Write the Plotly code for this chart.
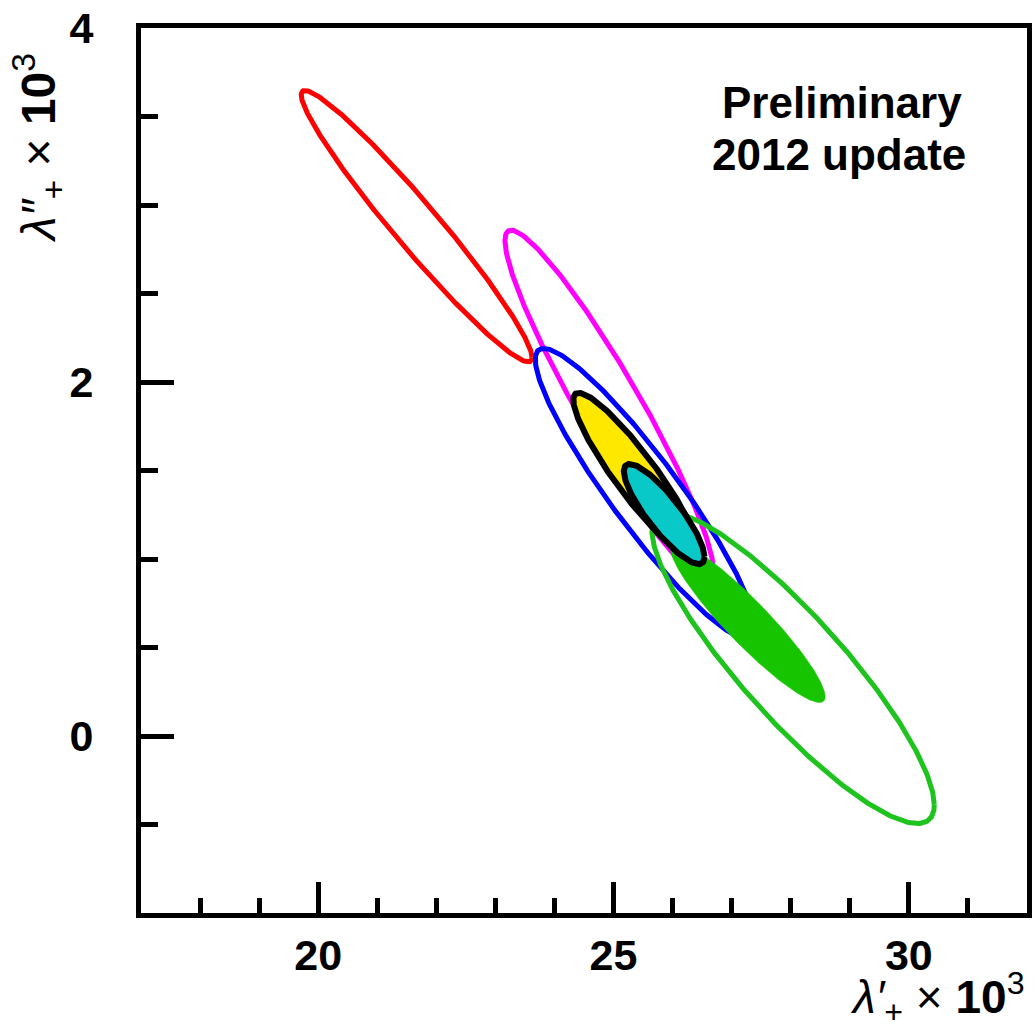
import numpy as np
import plotly.graph_objects as go

# Ellipse parameters (data units: lambda'_+ x 10^3, lambda''_+ x 10^3)
ellipse_names = ["red", "magenta", "blue", "green_outline", "green_fill", "yellow", "cyan"]
center_x = [21.666, 24.927, 25.535, 28.040, 27.273, 25.379, 25.857]
center_y = [2.880, 1.867, 1.370, 0.385, 0.641, 1.472, 1.254]
sigma_x = [1.954, 1.765, 1.860, 2.390, 1.310, 1.060, 0.683]
sigma_y = [0.767, 0.991, 0.820, 0.880, 0.452, 0.467, 0.283]
rho = [-0.967, -0.940, -0.923, -0.880, -0.926, -0.914, -0.855]

x_tick_vals = [20, 25, 30]
x_tick_text = ["20", "25", "30"]
y_tick_vals = [0, 2, 4]
y_tick_text = ["0", "2", "4"]

styles = {
    "red": dict(line="#ff0000", fill=None, lw=5),
    "magenta": dict(line="#ff00ff", fill=None, lw=5),
    "blue": dict(line="#0000ff", fill=None, lw=5),
    "green_outline": dict(line="#1ec31e", fill=None, lw=5),
    "green_fill": dict(line="#16c400", fill="#16c400", lw=0.5),
    "yellow": dict(line="#000000", fill="#ffe800", lw=6),
    "cyan": dict(line="#000000", fill="#09c8c8", lw=6),
}

t = np.linspace(0, 2 * np.pi, 400)
fig = go.Figure()
for name, cx, cy, sx, sy, r in zip(ellipse_names, center_x, center_y, sigma_x, sigma_y, rho):
    xs = cx + sx * np.cos(t)
    ys = cy + sy * (r * np.cos(t) + np.sqrt(1 - r * r) * np.sin(t))
    st = styles[name]
    kw = dict(x=xs, y=ys, mode="lines", name=name, showlegend=False, hoverinfo="skip",
              line=dict(color=st["line"], width=st["lw"]))
    if st["fill"]:
        kw.update(fill="toself", fillcolor=st["fill"])
    fig.add_trace(go.Scatter(**kw))

FONT = "Liberation Sans, Arial, sans-serif"
tickfont = dict(family=FONT, size=43, color="black", weight="bold")

fig.update_xaxes(
    range=[17, 32], showgrid=False, zeroline=False,
    showline=True, linecolor="black", linewidth=5, mirror=True,
    ticks="inside", ticklen=31, tickwidth=5, tickcolor="black",
    tickvals=x_tick_vals, ticktext=x_tick_text, tickfont=tickfont,
    ticklabelstandoff=0,
    minor=dict(ticks="inside", ticklen=15, tickwidth=5, tickcolor="black", dtick=1, tick0=0, showgrid=False),
)
fig.update_yaxes(
    range=[-1, 4], showgrid=False, zeroline=False,
    showline=True, linecolor="black", linewidth=5, mirror=True,
    ticks="inside", ticklen=33, tickwidth=5, tickcolor="black",
    tickvals=y_tick_vals, ticktext=y_tick_text, tickfont=tickfont,
    ticklabelstandoff=34,
    minor=dict(ticks="inside", ticklen=17, tickwidth=5, tickcolor="black", dtick=0.5, tick0=0, showgrid=False),
)

def px_to_paper(px, py):
    return (px - 141) / 891, (913 - py) / 889

ax1, ay1 = px_to_paper(846, 99)
fig.add_annotation(x=ax1, y=ay1, xref="paper", yref="paper", text="<b>Preliminary</b>",
                   showarrow=False, font=dict(family=FONT, size=44, color="black"),
                   xanchor="center", yanchor="middle")
ax2, ay2 = px_to_paper(843, 151)
fig.add_annotation(x=ax2, y=ay2, xref="paper", yref="paper", text="<b>2012 update</b>",
                   showarrow=False, font=dict(family=FONT, size=44, color="black"),
                   xanchor="center", yanchor="middle")

tx, ty = px_to_paper(942, 998)
fig.add_annotation(
    x=tx, y=ty, xref="paper", yref="paper",
    text="<i>λ′</i><sub>+</sub> × <b>10</b><sup>3</sup>", showarrow=False,
    font=dict(family=FONT, size=46, color="black"),
    xanchor="center", yanchor="middle",
)
yx, yy = px_to_paper(38, 145)
fig.add_annotation(
    x=yx, y=yy, xref="paper", yref="paper",
    text="<i>λ″</i><sub>+</sub> × <b>10</b><sup>3</sup>", showarrow=False, textangle=-90,
    font=dict(family=FONT, size=48, color="black"),
    xanchor="center", yanchor="middle",
)

fig.update_layout(
    width=1036, height=1030,
    margin=dict(l=141, r=4, t=24, b=117),
    paper_bgcolor="white", plot_bgcolor="white",
    showlegend=False,
)
fig.write_html("out.html")
